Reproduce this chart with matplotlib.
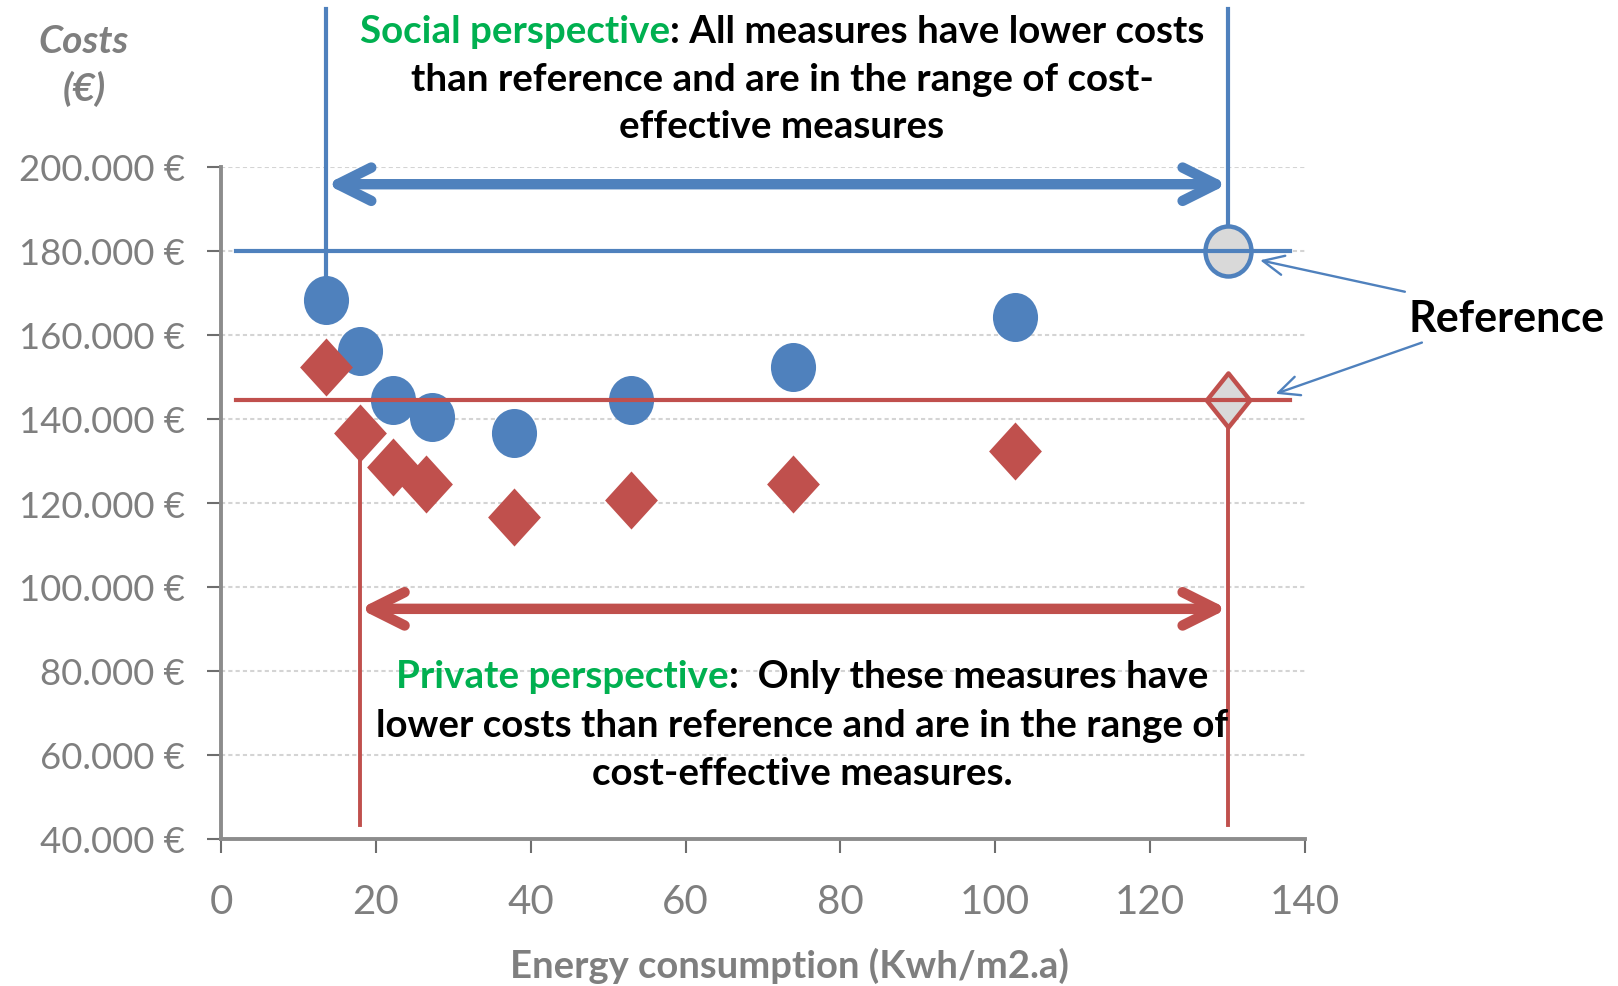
import matplotlib.pyplot as plt
from matplotlib.path import Path
from matplotlib.markers import MarkerStyle
import numpy as np

# energy consumption (kWh/m2.a) and global costs per measure
social_x = [13.6, 17.9, 22.2, 27.2, 37.9, 53.0, 73.9, 102.5]
social_cost = [168300, 156300, 144500, 140500, 136600, 144500, 152400, 164200]
private_x = [13.6, 17.9, 22.2, 26.5, 37.9, 53.0, 73.9, 102.5]
private_cost = [152400, 136700, 128600, 124600, 116700, 120600, 124600, 132500]

# reference building
ref_x = 130
ref_social = 180000
ref_private = 144500

x_ticks = [0, 20, 40, 60, 80, 100, 120, 140]
y_ticks = [40000, 60000, 80000, 100000, 120000, 140000, 160000, 180000, 200000]
y_labels = ['40.000 €', '60.000 €', '80.000 €', '100.000 €', '120.000 €',
            '140.000 €', '160.000 €', '180.000 €', '200.000 €']

BLUE = '#4f81bd'
RED = '#c0504d'
GREEN = '#00b050'
GRAY = '#7f7f7f'
FONT = 'Lato'

W, H = 1618, 987
plt.rcParams['font.family'] = [FONT, 'DejaVu Sans']

fig = plt.figure(figsize=(W / 100, H / 100), dpi=100)
ax = fig.add_axes([221 / W, 1 - 840 / H, 1084 / W, 672 / H])


def ellipse_marker(rx):
    c = Path.unit_circle()
    return MarkerStyle(Path(c.vertices * [rx, 1.0], c.codes))


def diamond_marker(rx):
    verts = [(0, 1), (rx, 0), (0, -1), (-rx, 0), (0, 1)]
    codes = [Path.MOVETO, Path.LINETO, Path.LINETO, Path.LINETO, Path.CLOSEPOLY]
    return MarkerStyle(Path(verts, codes))


# reference lines and guides
span = [2, 138]
ax.plot(span, [ref_social] * 2, color=BLUE, lw=3, zorder=6)
ax.plot(span, [ref_private] * 2, color=RED, lw=3, zorder=6)

top = 237700
bottom = 43400
ax.plot([social_x[0]] * 2, [social_cost[0] - 1800, top], color=BLUE, lw=3,
        clip_on=False, zorder=7)
ax.plot([ref_x] * 2, [ref_social, top], color=BLUE, lw=3, clip_on=False, zorder=3)
ax.plot([private_x[1]] * 2, [private_cost[1], bottom], color=RED, lw=2.8, zorder=3)
ax.plot([ref_x] * 2, [ref_private, bottom], color=RED, lw=2.8, zorder=3)

# measures
ax.plot(social_x, social_cost, ls='none', marker=ellipse_marker(0.92), ms=35.3,
        color=BLUE, mec='none', zorder=4)
ax.plot(private_x, private_cost, ls='none', marker=diamond_marker(0.91), ms=41.8,
        color=RED, mec='none', zorder=5)

# reference markers
ax.plot([ref_x], [ref_social], ls='none', marker=ellipse_marker(0.92), ms=36,
        mfc='#d9d9d9', mec=BLUE, mew=3.2, zorder=5, clip_on=False)
ax.plot([ref_x], [ref_private], ls='none', marker=diamond_marker(0.8), ms=39,
        mfc='#d9d9d9', mec=RED, mew=3.2, zorder=5, clip_on=False)

# cost-effective ranges
for y, x0, col in [(195900, social_x[0], BLUE), (94800, private_x[1], RED)]:
    ax.annotate('', xy=(ref_x, y), xytext=(x0, y), annotation_clip=False,
                arrowprops=dict(arrowstyle='<->,head_length=2.4,head_width=1.2',
                                mutation_scale=10, lw=7.5, color=col,
                                shrinkA=0, shrinkB=0, capstyle='round',
                                joinstyle='round'), zorder=8)

# pointers to the reference
for tip, tail in [((134.2, 177800), (152.9, 170300)), ((136.2, 146000), (155.1, 158200))]:
    ax.annotate('', xy=tip, xytext=tail, annotation_clip=False,
                arrowprops=dict(arrowstyle='->,head_length=1.5,head_width=0.7',
                                mutation_scale=10, lw=1.7, color=BLUE,
                                shrinkA=0, shrinkB=0))

ax.set_xlim(0, 140)
ax.set_ylim(40000, 200000)
ax.set_xticks(x_ticks)
ax.set_yticks(y_ticks)
ax.set_yticklabels(y_labels)
ax.tick_params(axis='both', direction='out', length=10, width=1.5, colors='#6e6e6e')
ax.tick_params(axis='y', pad=16, labelsize=26.3, labelcolor=GRAY)
ax.tick_params(axis='x', pad=22, labelsize=29, labelcolor=GRAY)
for lab in ax.get_xticklabels() + ax.get_yticklabels():
    lab.set_fontfamily(FONT)

ax.yaxis.grid(True, ls=(0, (2, 1.5)), color='#d4d4d4', lw=1.5)
ax.set_axisbelow(True)
for s in ['top', 'right']:
    ax.spines[s].set_visible(False)
for s in ['left', 'bottom']:
    ax.spines[s].set_color('#8c8c8c')
    ax.spines[s].set_linewidth(2.8)


def fy(y):
    return 1 - y / H


fig.text(84 / W, fy(53), 'Costs', ha='center', va='baseline', fontsize=28,
         color=GRAY, style='italic', weight='bold')
fig.text(84 / W, fy(101), '(€)', ha='center', va='baseline', fontsize=28,
         color=GRAY, style='italic', weight='bold')
fig.text(789 / W, fy(978), 'Energy consumption (Kwh/m2.a)', ha='center',
         va='baseline', fontsize=27.5, color=GRAY, weight='bold')
fig.text(1507 / W, fy(332), 'Reference', ha='center', va='baseline',
         fontsize=31, color='black', weight='bold')

renderer = fig.canvas.get_renderer()


def colored_line(cx, base, parts, size=27.7):
    # draw segments side by side, centred on cx (pixels)
    texts = [fig.text(0, fy(base), s, color=c, fontsize=size, weight='bold',
                      va='baseline', ha='left') for s, c in parts]
    widths = [t.get_window_extent(renderer).width for t in texts]
    x = cx - sum(widths) / 2
    for t, w in zip(texts, widths):
        t.set_x(x / W)
        x += w


colored_line(782, 43, [('Social perspective', GREEN),
                       (': All measures have lower costs', 'black')])
colored_line(782, 91, [('than reference and are in the range of cost-', 'black')])
colored_line(782, 138, [('effective measures', 'black')])

colored_line(802, 688, [('Private perspective', GREEN),
                        (':  Only these measures have', 'black')])
colored_line(802, 737, [('lower costs than reference and are in the range of', 'black')])
colored_line(802, 785, [('cost-effective measures.', 'black')])

fig.savefig('out.png', dpi=100)
